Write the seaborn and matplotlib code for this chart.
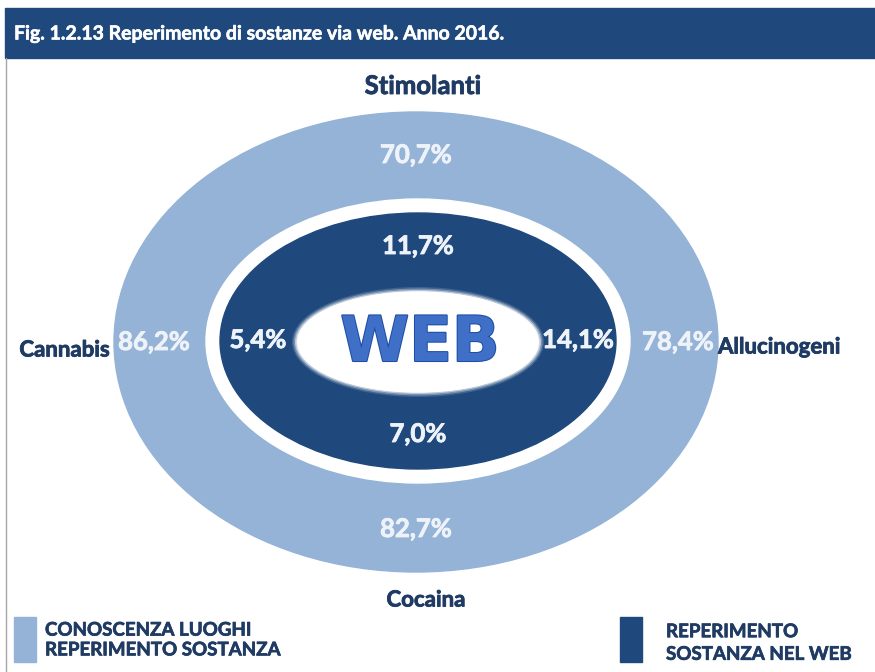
import matplotlib
matplotlib.use("Agg")
import matplotlib.pyplot as plt
from matplotlib.patches import Ellipse, Rectangle
import matplotlib.patheffects as pe
import seaborn as sns

# ---- data ----
categories = ["Stimolanti", "Allucinogeni", "Cocaina", "Cannabis"]
conoscenza = [70.7, 78.4, 82.7, 86.2]     # outer ring (light)
web = [11.7, 14.1, 7.0, 5.4]              # inner ring (dark)
legend_labels = ["CONOSCENZA LUOGHI\nREPERIMENTO SOSTANZA",
                 "REPERIMENTO\nSOSTANZA NEL WEB"]
title = "Fig. 1.2.13 Reperimento di sostanze via web. Anno 2016."
center_word = "WEB"

sns.set_theme(style="white")
plt.rcParams["font.family"] = ["Lato", "DejaVu Sans"]

light, dark = "#95b3d7", "#1f497d"
navy_txt = "#1f3b63"
pal = sns.color_palette([light, dark])

W, H = 875, 672
fig = plt.figure(figsize=(W / 100, H / 100), dpi=100)
ax = fig.add_axes([0, 0, 1, 1])
ax.set_xlim(0, W)
ax.set_ylim(H, 0)
ax.axis("off")

def fmt(v):
    return f"{v:.1f}%".replace(".", ",")

def thick(col, lw=0.6):
    return [pe.withStroke(linewidth=lw, foreground=col)]

# title bar
ax.add_patch(Rectangle((5, 8), W - 5, 50, color=dark, zorder=1))
ax.text(14, 34, title, color="white", fontsize=14, fontweight="bold",
        va="center", ha="left", zorder=2, path_effects=thick("white", 0.4))
ax.plot([5.5, 5.5], [58, H], color="#a6a6a6", lw=1, zorder=1)

cx, cy = 416, 342
# rings
ax.add_patch(Ellipse((cx, cy), 604, 460, color=pal[0], zorder=2))
ax.add_patch(Ellipse((cx + 2, cy - 1), 424, 284, color="white", zorder=3))
ax.add_patch(Ellipse((cx + 2, cy - 1), 396, 256, color=pal[1], zorder=4))
for i, a in enumerate([0.15, 0.3, 0.5, 0.75]):
    ax.add_patch(Ellipse((cx + 2, cy), 252 - i * 3, 110 - i * 3,
                         color="white", alpha=a, zorder=5, lw=0))
ax.add_patch(Ellipse((cx + 2, cy), 240, 100, color="white", zorder=6))

ax.text(cx + 4, cy + 2, center_word, fontsize=45, fontweight="heavy",
        family=["DejaVu Sans"], color="#3f6fc6", ha="center", va="center",
        zorder=7,
        path_effects=[pe.withStroke(linewidth=1.5, foreground="#1d4ea8")])

# label positions: top, right, bottom, left
dirs = [(0, -1), (1, 0), (0, 1), (-1, 0)]
orx, ory = 262, 187
irx, iry = 160, 94
pct_col = "#eef3fa"
pct_kw = dict(fontsize=18.5, fontweight="bold", color=pct_col,
              ha="center", va="center", zorder=8, path_effects=thick(pct_col))
for (dx, dy), c, w in zip(dirs, conoscenza, web):
    ax.text(cx + dx * orx, cy + dy * ory, fmt(c), **pct_kw)
    ax.text(cx + 2 + dx * irx, cy - 2 + dy * iry, fmt(w), **pct_kw)

cat_kw = dict(fontsize=16, fontweight="bold", color=navy_txt, va="center",
              zorder=8, path_effects=thick(navy_txt))
ax.text(cx + 7, 86, categories[0], ha="center", **{**cat_kw, "fontsize": 18.5})
ax.text(718, 347, categories[1], ha="left", **cat_kw)
ax.text(cx + 10, 600, categories[2], ha="center", **cat_kw)
ax.text(110, 350, categories[3], ha="right", **cat_kw)

# legend
leg_kw = dict(fontsize=13.5, fontweight="bold", color=navy_txt, va="center",
              ha="left", path_effects=thick(navy_txt, 0.5))
ax.add_patch(Rectangle((14, 617), 22, 45, color=pal[0], zorder=2))
ax.text(45, 640, legend_labels[0], linespacing=1.2, **leg_kw)
ax.add_patch(Rectangle((620, 617), 22, 45, color=pal[1], zorder=2))
ax.text(666, 643, legend_labels[1], linespacing=1.4, **leg_kw)

fig.savefig("out.png", dpi=100)
